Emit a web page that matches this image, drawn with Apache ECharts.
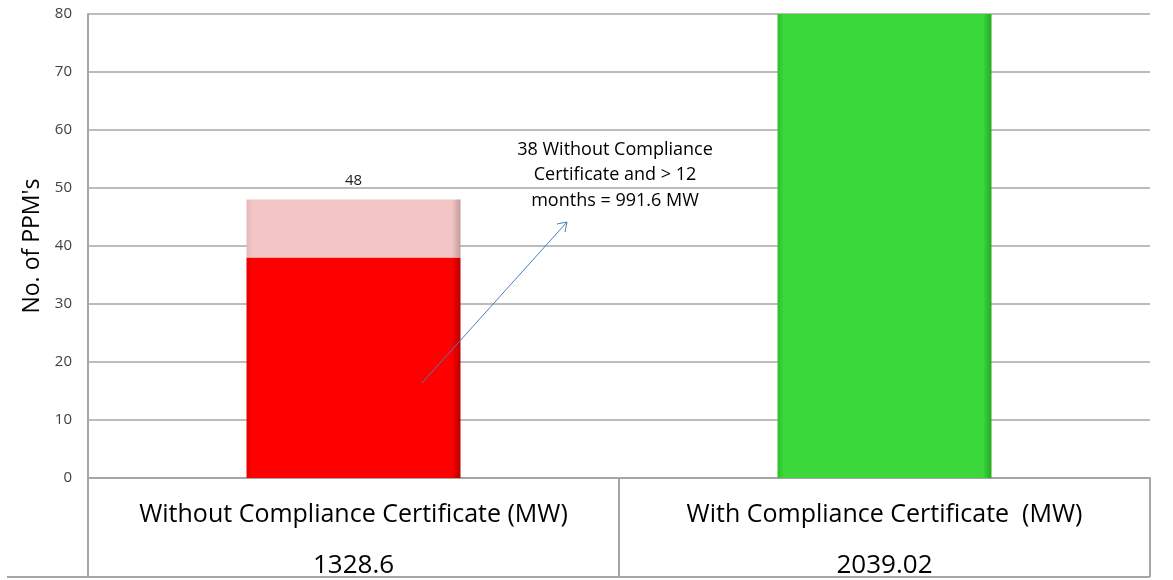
<!DOCTYPE html>
<html>
<head>
<meta charset="utf-8">
<script src="https://cdn.jsdelivr.net/npm/echarts@6/dist/echarts.min.js"></script>
<style>html,body{margin:0;padding:0;background:#fff}#c{width:1173px;height:580px}</style>
</head>
<body>
<div id="c"></div>
<script>
const categories = ['Without Compliance Certificate (MW)', 'With Compliance Certificate  (MW)'];
const mwValues = ['1328.6', '2039.02'];
const over12Months = [38, '-'];
const otherWithout = [10, '-'];
const withCert = ['-', 80];
const yTicks = [0, 10, 20, 30, 40, 50, 60, 70, 80];
const yName = "No. of PPM's";
const note = '38 Without Compliance\nCertificate and > 12\nmonths = 991.6 MW';

const totals = categories.map((c, i) =>
  [over12Months[i], otherWithout[i]].reduce((s, v) => s + (typeof v === 'number' ? v : 0), 0));

function grad(edge, main, dark) {
  return new echarts.graphic.LinearGradient(0, 0, 1, 0, [
    {offset: 0, color: edge}, {offset: 0.03, color: main},
    {offset: 0.96, color: main}, {offset: 1, color: dark}
  ]);
}

const chart = echarts.init(document.getElementById('c'), null, {renderer: 'canvas'});
const font = '"Open Sans", "Noto Sans", sans-serif';
chart.setOption({
  animation: false,
  grid: {left: 88, right: 23, top: 14, bottom: 102, containLabel: false},
  xAxis: {
    type: 'category',
    data: categories,
    axisLine: {show: true, lineStyle: {color: '#a6a6a6', width: 2}},
    axisTick: {show: true, interval: 0, length: 99, lineStyle: {color: '#a6a6a6', width: 2}},
    axisLabel: {
      interval: 0,
      margin: 24,
      formatter: (v, i) => '{n|' + v + '}\n{v|' + mwValues[i] + '}',
      rich: {
        n: {fontSize: 25, lineHeight: 26, color: '#000', fontFamily: font},
        v: {fontSize: 26, lineHeight: 76, color: '#000', fontFamily: font}
      }
    }
  },
  yAxis: {
    type: 'value',
    min: yTicks[0], max: yTicks[yTicks.length - 1], interval: yTicks[1] - yTicks[0],
    name: yName,
    nameLocation: 'middle',
    nameRotate: 90,
    nameGap: 41,
    nameTextStyle: {fontSize: 23, color: '#000', fontFamily: font},
    axisLine: {show: true, lineStyle: {color: '#a6a6a6', width: 2}},
    axisTick: {show: false},
    axisLabel: {fontSize: 15, color: '#404040', margin: 16, fontFamily: font},
    splitLine: {show: true, lineStyle: {color: '#a6a6a6', width: 1.5}}
  },
  series: [
    {
      type: 'bar', stack: 's', data: over12Months, barWidth: '40.3%',
      itemStyle: {color: grad('#e80000', '#ff0000', '#b80000')}
    },
    {
      type: 'bar', stack: 's', data: otherWithout,
      itemStyle: {color: grad('#e8b8b8', '#f2c4c4', '#c49a9a')},
      label: {
        show: true, position: 'top', distance: 11, fontSize: 15, color: '#222', fontFamily: font,
        formatter: p => String(totals[p.dataIndex])
      }
    },
    {
      type: 'bar', stack: 's', data: withCert,
      itemStyle: {color: grad('#2cc02c', '#3ad83a', '#26a826')}
    }
  ],
  graphic: [
    {type: 'line', z: 100, shape: {x1: 7, y1: 577, x2: 1150, y2: 577}, style: {stroke: '#a6a6a6', lineWidth: 2}, silent: true},
    {type: 'line', z: 100, shape: {x1: 1150, y1: 478, x2: 1150, y2: 577}, style: {stroke: '#a6a6a6', lineWidth: 2}, silent: true},
    {type: 'line', z: 100, shape: {x1: 422, y1: 383, x2: 567, y2: 222}, style: {stroke: '#4a7ebb', lineWidth: 1}, silent: true},
    {type: 'polyline', z: 100, shape: {points: [[557, 224], [567, 222], [565, 232]]}, style: {stroke: '#4a7ebb', lineWidth: 1, fill: null}, silent: true},
    {type: 'text', z: 100, x: 615, y: 137, style: {text: note, textAlign: 'center', fontSize: 18, lineHeight: 25.5, fill: '#000', fontFamily: font}, silent: true}
  ]
});
</script>
</body>
</html>
